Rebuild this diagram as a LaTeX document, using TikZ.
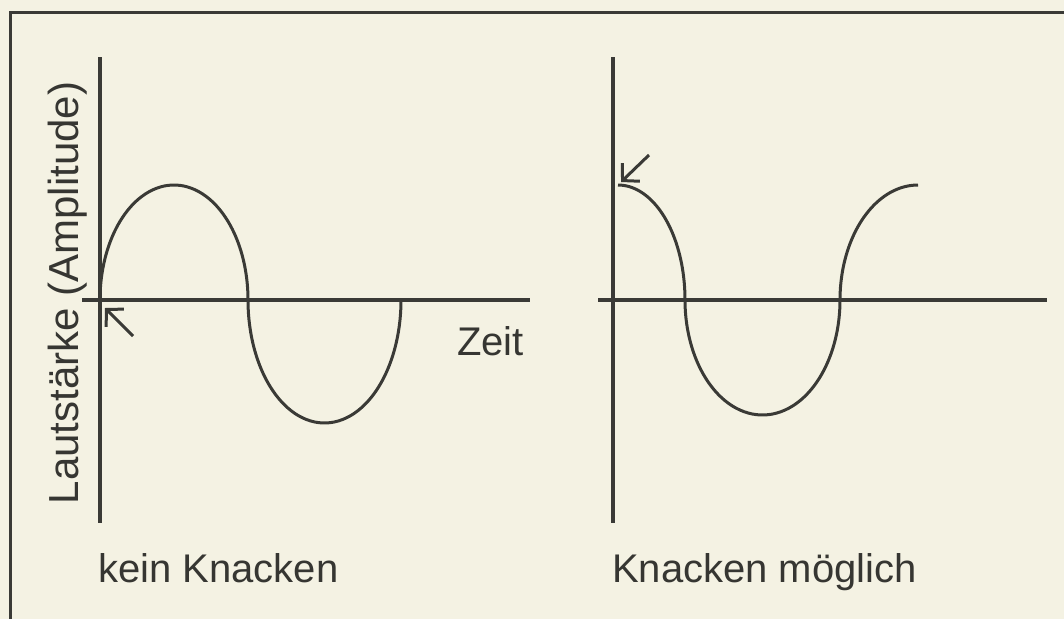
\documentclass[tikz,border=0pt]{standalone}
\usepackage{fontspec}
\setmainfont{Liberation Sans}
\usetikzlibrary{arrows.meta}
\definecolor{paper}{HTML}{F4F2E3}
\definecolor{ink}{HTML}{3A3A36}
\definecolor{txt}{HTML}{363632}
\tikzset{
  frame/.style={draw=ink, line width=3pt},
  axis/.style={draw=ink, line width=4pt},
  wave/.style={draw=ink, line width=3pt, line join=round},
  pointer/.style={draw=ink, line width=3pt, -{Straight Barb[length=12pt,width=25pt,line width=3pt]}},
  lbl/.style={text=txt, inner sep=0pt, font=\fontsize{40}{46}\selectfont},
  vlbl/.style={text=txt, inner sep=0pt, font=\fontsize{42}{48}\selectfont},
}
\begin{document}
\begin{tikzpicture}[x=1pt,y=-1pt]
  \fill[paper] (0,0) rectangle (1064,619);
  \useasboundingbox (0,0) rectangle (1064,619);
  % frame
  \coordinate (fTR) at (1064,12);
  \coordinate (fTL) at (10,12);
  \coordinate (fBL) at (10,619);
  \draw[frame] (fTR) -- (fTL) -- (fBL);
  % left axes
  \coordinate (LyT) at (100,57);
  \coordinate (LyB) at (100,523);
  \coordinate (LxL) at (82,300);
  \coordinate (LxR) at (530,300);
  \draw[axis] (LyT) -- (LyB);
  \draw[axis] (LxL) -- (LxR);
  % right axes
  \coordinate (RyT) at (613,57);
  \coordinate (RyB) at (613,523);
  \coordinate (RxL) at (598,300);
  \coordinate (RxR) at (1047,300);
  \draw[axis] (RyT) -- (RyB);
  \draw[axis] (RxL) -- (RxR);
  % left wave
  \draw[wave] plot[domain=180:0, samples=60, smooth] ({174+74*cos(\x)},{300-115*sin(\x)})
     -- plot[domain=180:360, samples=60, smooth] ({324.5+76.5*cos(\x)},{300-123*sin(\x)});
  % right wave
  \draw[wave] plot[domain=90:0, samples=40, smooth] ({618+67*cos(\x)},{300-115*sin(\x)})
     -- plot[domain=180:360, samples=60, smooth] ({762.5+77.5*cos(\x)},{300-115*sin(\x)})
     -- plot[domain=180:90, samples=40, smooth] ({918+78*cos(\x)},{300-115*sin(\x)});
  % pointers
  \coordinate (pLs) at (133,336);
  \coordinate (pLe) at (105,308);
  \draw[pointer] (pLs) -- (pLe);
  \coordinate (pRs) at (649,155);
  \coordinate (pRe) at (621,182);
  \draw[pointer] (pRs) -- (pRe);
  % labels
  \node[lbl, anchor=base west] (zeit) at (457,355) {Zeit};
  \node[lbl, anchor=base west] (kein) at (98,582) {kein Knacken};
  \node[lbl, anchor=base west] (moeg) at (612,582) {Knacken möglich};
  \node[vlbl, rotate=90, anchor=base] (ampl) at (78,293) {Lautstärke (Amplitude)};
\end{tikzpicture}
\end{document}
